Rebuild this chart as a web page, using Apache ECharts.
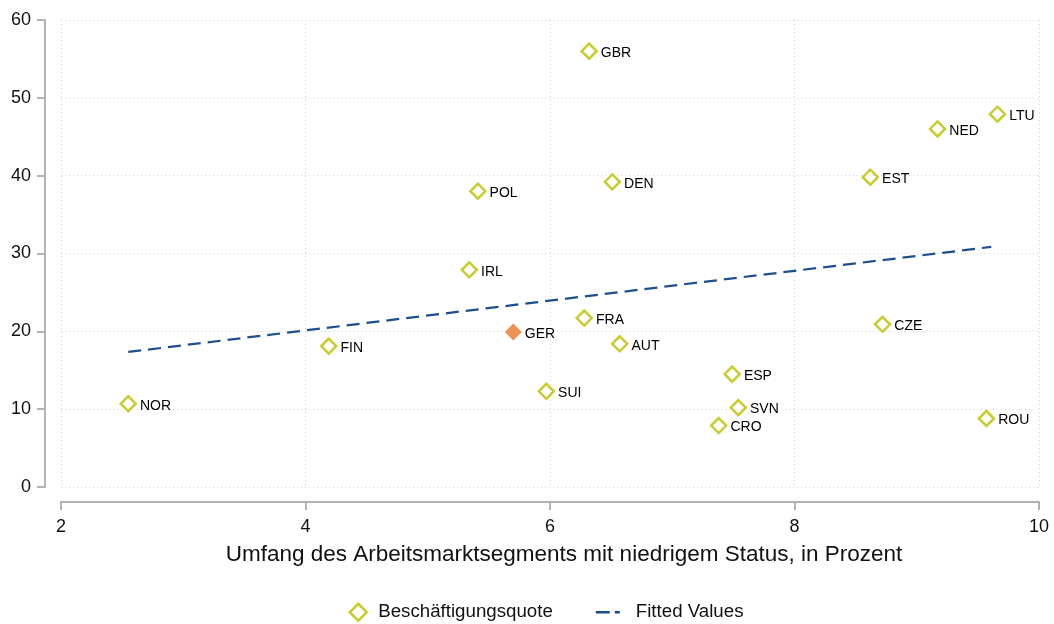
<!DOCTYPE html>
<html>
<head>
<meta charset="utf-8">
<script src="https://cdn.jsdelivr.net/npm/echarts@6/dist/echarts.min.js"></script>
<style>
html, body { margin: 0; padding: 0; background: #fff; }
#main { width: 1054px; height: 624px; }
</style>
</head>
<body>
<div id="main"></div>
<script>
// Länder, x = Umfang Segment niedriger Status (%), y = Beschäftigungsquote
var countries = ['NOR', 'FIN', 'IRL', 'POL', 'GER', 'SUI', 'FRA', 'GBR', 'DEN', 'AUT', 'CRO', 'ESP', 'SVN', 'EST', 'CZE', 'NED', 'ROU', 'LTU'];
var xValues = [2.55, 4.19, 5.34, 5.41, 5.70, 5.97, 6.28, 6.32, 6.51, 6.57, 7.38, 7.49, 7.54, 8.62, 8.72, 9.17, 9.57, 9.66];
var yValues = [10.7, 18.1, 27.9, 38.0, 19.9, 12.3, 21.7, 56.0, 39.2, 18.4, 7.9, 14.5, 10.2, 39.8, 20.9, 46.0, 8.8, 47.9];
var highlight = 'GER';

// Fitted Values (Endpunkte)
var fitX = [2.55, 9.61];
var fitY = [17.35, 30.85];

var xTicks = [2, 4, 6, 8, 10];
var yTicks = [0, 10, 20, 30, 40, 50, 60];

var olive = '#c9cd2b';
var orange = '#ee9356';
var navy = '#1d4f8e';
var axisGray = '#b3b3b3';
var font = '"Liberation Sans", Arial, Helvetica, sans-serif';

var scatterData = [];
for (var i = 0; i < countries.length; i++) {
	var item = { value: [xValues[i], yValues[i]], name: countries[i] };
	if (countries[i] == highlight) {
		item.symbol = 'diamond';
		item.symbolSize = 17;
		item.itemStyle = { color: orange, borderWidth: 0, opacity: 1 };
	}
	scatterData.push(item);
}
var fitData = [];
for (var j = 0; j < fitX.length; j++) {
	fitData.push([fitX[j], fitY[j]]);
}

var chart = echarts.init(document.getElementById('main'));
var option = {
	backgroundColor: '#fff',
	animation: false,
	textStyle: { fontFamily: font },
	grid: {
		left: 61,
		right: 15,
		top: 20,
		bottom: 137
	},
	xAxis: {
		type: 'value',
		min: xTicks[0],
		max: xTicks[xTicks.length - 1],
		interval: 2,
		offset: 15,
		name: 'Umfang des Arbeitsmarktsegments mit niedrigem Status, in Prozent',
		nameLocation: 'middle',
		nameGap: 41,
		nameTextStyle: { fontSize: 22.5, color: '#111', padding: [0, 0, 0, 28] },
		axisLine: { show: true, onZero: false, lineStyle: { color: axisGray, width: 2 } },
		axisTick: { show: true, length: 8, lineStyle: { color: axisGray, width: 2 } },
		axisLabel: { fontSize: 18, color: '#111', margin: 16 },
		splitLine: { show: true, lineStyle: { color: '#d2d2d2', type: [1, 3], width: 1 } }
	},
	yAxis: {
		type: 'value',
		min: yTicks[0],
		max: yTicks[yTicks.length - 1],
		interval: 10,
		offset: 16,
		axisLine: { show: true, onZero: false, lineStyle: { color: axisGray, width: 2 } },
		axisTick: { show: true, length: 8, lineStyle: { color: axisGray, width: 2 } },
		axisLabel: { fontSize: 18, color: '#111', margin: 14 },
		splitLine: { show: true, lineStyle: { color: '#d2d2d2', type: [1, 3], width: 1 } }
	},
	legend: {
		top: 602,
		left: 337,
		padding: 0,
		itemGap: 43,
		itemWidth: 35,
		itemHeight: 18,
		textStyle: { fontSize: 18.7, color: '#111', fontFamily: font },
		data: [{
			name: 'Beschäftigungsquote',
			icon: 'path://M0,0M35,18M20,0.5L28.5,9L20,17.5L11.5,9Z',
			itemStyle: { color: 'rgba(0,0,0,0)', borderColor: olive, borderWidth: 2.5 }
		}, {
			name: 'Fitted Values',
			icon: 'path://M0,0M35,18M0,7.8L14,7.8L14,10.2L0,10.2ZM19,7.8L24,7.8L24,10.2L19,10.2Z',
			itemStyle: { color: navy, borderWidth: 0 }
		}]
	},
	series: [{
		name: 'Beschäftigungsquote',
		type: 'scatter',
		symbol: 'diamond',
		symbolSize: 15,
		itemStyle: { color: 'rgba(0,0,0,0)', borderColor: olive, borderWidth: 2.5, opacity: 1 },
		label: {
			show: true,
			position: 'right',
			distance: 3,
			offset: [0, 2],
			formatter: function(p) { return p.name; },
			fontSize: 14,
			color: '#000'
		},
		data: scatterData,
		z: 3
	}, {
		name: 'Fitted Values',
		type: 'line',
		symbol: 'none',
		lineStyle: { color: navy, width: 2.2, type: [13, 7] },
		itemStyle: { color: navy },
		data: fitData,
		z: 2
	}]
};
chart.setOption(option);
</script>
</body>
</html>
